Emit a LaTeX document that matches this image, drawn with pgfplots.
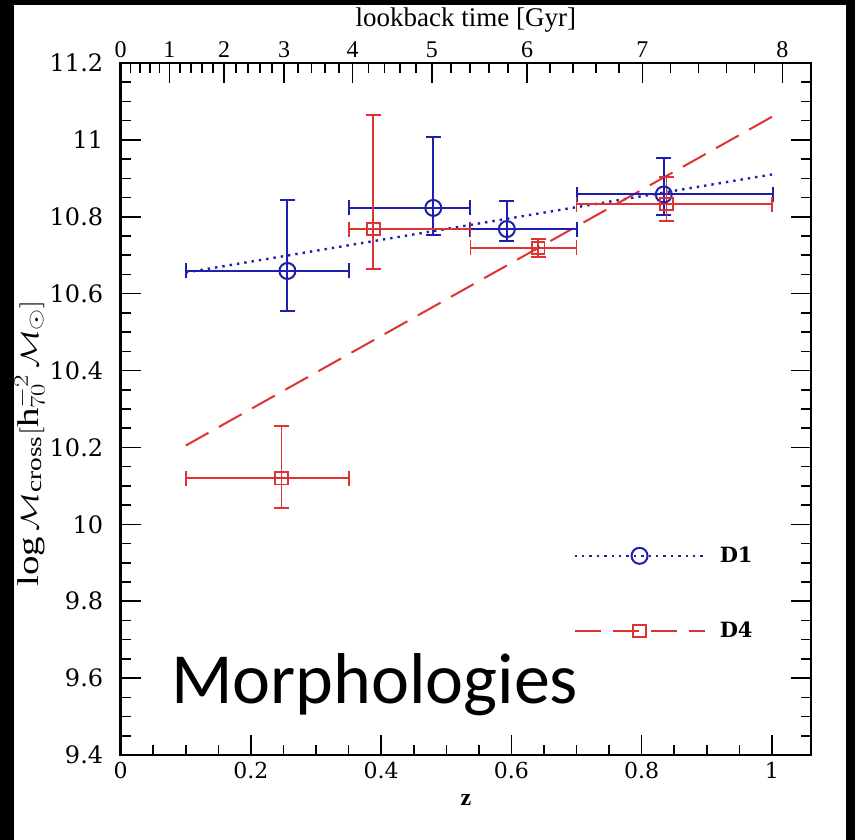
\documentclass[border=0pt]{standalone}
\usepackage{pgfplots}
\pgfplotsset{compat=1.18}
\usepackage{pgfplotstable}
\usepackage{fontspec}
\setmainfont{Liberation Serif}
\newfontfamily\dvs{DejaVu Serif}
\newfontfamily\carl{Carlito}
\definecolor{mblue}{RGB}{30,30,175}
\definecolor{mred}{RGB}{225,50,50}

\pgfplotstableread{
x     y      xm    xp    ym    yp
0.256 10.659 0.156 0.094 0.103 0.184
0.480 10.823 0.130 0.057 0.070 0.184
0.593 10.768 0.056 0.107 0.031 0.073
0.834 10.858 0.134 0.167 0.053 0.096
}\dOne
\pgfplotstableread{
x     y      xm    xp    ym    yp
0.247 10.120 0.147 0.103 0.078 0.136
0.388 10.768 0.038 0.149 0.104 0.297
0.641 10.719 0.104 0.059 0.024 0.023
0.838 10.833 0.138 0.162 0.044 0.071
}\dFour

\begin{document}
\begin{tikzpicture}
\fill[black] (0pt,0pt) rectangle (855pt,840pt);
\fill[white] (14pt,0pt) rectangle (846pt,835pt);
% top axis: lookback time
\begin{axis}[
  at={(120.7pt,85pt)}, anchor=south west,
  width=690.3pt, height=692pt, scale only axis,
  xmin=0, xmax=1.06, ymin=0, ymax=1,
  axis x line*=top, axis y line=none,
  axis line style={line width=2.4pt},
  xtick={0,0.0747,0.1587,0.2509,0.356,0.478,0.624,0.801,1.016},
  xticklabels={0,1,2,3,4,5,6,7,8},
  minor xtick={0.0149,0.0299,0.0448,0.0598,0.0915,0.1083,0.1251,0.1419,0.1771,0.1956,0.2140,0.2325,0.2719,0.2929,0.3139,0.3350,0.3804,0.4048,0.4292,0.4536,0.5072,0.5364,0.5656,0.5948,0.6594,0.6948,0.7302,0.7656,0.844,0.887,0.930,0.973},
  xtick align=inside,
  major tick length=20pt, minor tick length=10pt,
  every tick/.style={line width=1.6pt, black},
  xticklabel style={font=\fontsize{24}{26}\selectfont, yshift=2pt},
  xlabel={lookback time [Gyr]},
  xlabel style={font=\fontsize{27}{29}\selectfont, at={(axis description cs:0.5,1)}, anchor=south, yshift=27pt},
]
\end{axis}
% main axis
\begin{axis}[
  at={(120.7pt,85pt)}, anchor=south west,
  width=690.3pt, height=692pt, scale only axis,
  xmin=0, xmax=1.06, ymin=9.4, ymax=11.2,
  axis line style={line width=2.4pt},
  xtick={0,0.2,0.4,0.6,0.8,1},
  ytick={9.4,9.6,9.8,10,10.2,10.4,10.6,10.8,11,11.2},
  minor x tick num=3, minor y tick num=3,
  xtick pos=left,
  tick align=inside,
  major tick length=20pt, minor tick length=10pt,
  every tick/.style={line width=1.6pt, black},
  /pgf/number format/assume math mode=true,
  yticklabel style={font=\dvs\fontsize{24}{26}\selectfont, xshift=-14pt},
  xticklabel style={font=\dvs\fontsize{22}{24}\selectfont, yshift=-4pt},
  xlabel={\textbf{z}},
  xlabel style={font=\fontsize{24}{26}\selectfont, yshift=-8pt},
  ylabel={$\log\mathcal{M}_{\mathrm{cross}}[\mathrm{h}_{70}^{-2}\,\mathcal{M}_{\odot}]$},
  ylabel style={font=\fontsize{30}{32}\selectfont, at={(axis description cs:-0.132,0.45)}, anchor=center, xscale=1.3},
  legend cell align=left,
  legend style={at={(axis cs:0.6948,9.946)}, anchor=north west, draw=none, fill=none,
    inner sep=0pt, row sep=54pt, column sep=12pt,
    font=\dvs\bfseries\fontsize{21}{23}\selectfont},
  legend image code/.code={\draw[#1, mark repeat=2, mark phase=2] plot coordinates {(0pt,0pt) (65pt,0pt) (130pt,0pt)};},
]
\addplot[mblue, line width=2.4pt, dash pattern=on 2.4pt off 5pt, forget plot] coordinates {(0.1,10.655) (1.0,10.91)};
\addplot[mred, line width=2pt, dash pattern=on 26pt off 12pt, forget plot] coordinates {(0.1,10.205) (1.0,11.06)};
\addplot[mblue, only marks, mark=o, mark size=8pt, mark options={line width=2pt}, forget plot,
  error bars/.cd, x dir=both, x explicit, y dir=both, y explicit,
  error mark=-,
  error bar style={line width=2pt, mblue, solid},
  error mark options={rotate=90, mark size=7.5pt, line width=2pt, mblue, solid}]
  table[x=x, y=y, x error minus=xm, x error plus=xp, y error minus=ym, y error plus=yp]{\dOne};
\addplot[mred, only marks, mark=square, mark size=6.3pt, mark options={line width=1.8pt}, forget plot,
  error bars/.cd, x dir=both, x explicit, y dir=both, y explicit,
  error mark=-,
  error bar style={line width=1.8pt, mred, solid},
  error mark options={rotate=90, mark size=7.5pt, line width=1.8pt, mred, solid}]
  table[x=x, y=y, x error minus=xm, x error plus=xp, y error minus=ym, y error plus=yp]{\dFour};
\addlegendimage{mblue, line width=2.4pt, dash pattern=on 2.4pt off 5pt, mark=o, mark size=8pt, mark options={solid, line width=2pt}}
\addlegendentry{D1}
\addlegendimage{mred, line width=2pt, dash pattern=on 26pt off 12pt, mark=square, mark size=6.3pt, mark options={solid, line width=1.8pt}}
\addlegendentry{D4}
\node[font=\carl\fontsize{72}{80}\selectfont, anchor=base west] at (axis cs:0.072,9.534) {Morphologies};
\end{axis}
\pgfresetboundingbox
\useasboundingbox (0pt,0pt) rectangle (855pt,840pt);
\end{tikzpicture}
\end{document}
